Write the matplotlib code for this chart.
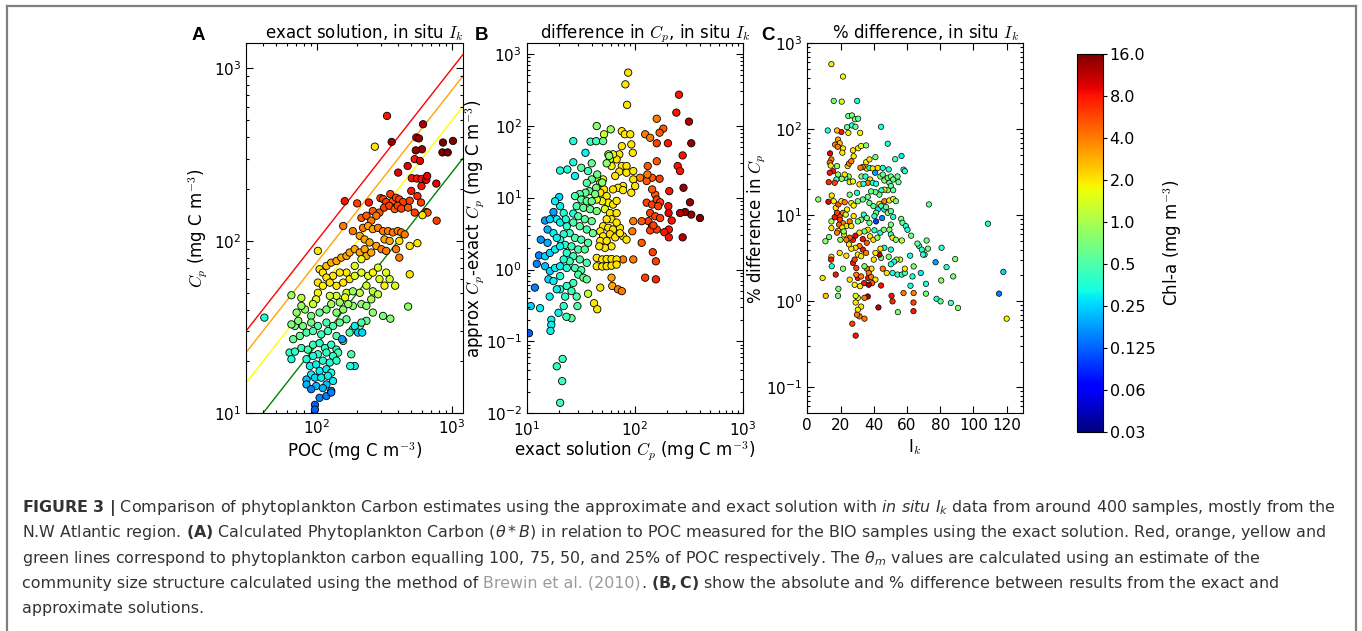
import numpy as np
import matplotlib
matplotlib.use('Agg')
import matplotlib.pyplot as plt
from matplotlib.colors import LogNorm
from matplotlib.lines import Line2D

plt.rcParams['font.family'] = 'DejaVu Sans'
plt.rcParams['mathtext.fontset'] = 'cm'

# ---- panel A: exact solution, Cp vs POC ----
a_poc = [331, 611, 269, 358, 545, 570, 600, 540, 858, 1017, 850, 930, 530, 580, 400, 470, 505, 550, 595, 645, 766, 595, 655,
         161, 199, 243, 214, 233, 260, 291, 296, 310, 326, 350, 366, 386, 408, 434, 315, 344, 377, 397, 422, 474, 487, 500, 555, 590, 645, 660, 605, 530, 770, 276, 253,
         157, 185, 220, 240, 260, 284, 309, 337, 366, 397, 422, 447, 317, 346, 208, 226, 246, 276, 301, 326, 408, 487, 555, 386, 408, 487, 474, 350, 380,
         102, 105, 111, 118, 128, 140, 152, 166, 175, 191, 208, 226, 233, 253, 214, 191, 166, 148, 132, 118, 102, 111, 125, 140, 157, 175, 191, 214, 240, 260,
         284, 291, 317, 326, 346, 166, 233, 208, 185, 162, 140, 125, 102, 99, 94, 77, 65, 82, 71,
         91, 105, 118, 140, 157, 185, 214, 260, 309, 233, 208, 185, 166, 148, 132, 118, 102, 91, 79, 69, 75, 84, 94, 108, 121, 140, 157, 175, 191, 202,
         217, 214, 67, 63, 69, 77, 86, 94, 105, 115, 128, 140, 154, 144, 132, 118, 102, 94, 84, 65, 89, 99, 111, 125, 140, 180, 191, 105, 118, 128,
         91, 84, 97, 108, 121, 132, 84, 99, 118, 91, 111, 128, 105, 118, 128, 97, 97, 41, 65, 73, 77, 177, 128, 148, 171, 260, 284, 253, 233]
a_cp = [531, 475, 352, 375, 398, 393, 340, 335, 372, 380, 326, 326, 298, 291, 249, 272, 231, 230, 228, 226, 215, 208, 238,
        170, 165, 167, 136, 140, 149, 146, 177, 175, 168, 187, 170, 178, 174, 168, 156, 160, 153, 160, 154, 156, 171, 195, 182, 167, 147, 146, 141, 146, 131, 140, 131,
        122, 114, 119, 122, 117, 119, 114, 114, 112, 114, 112, 109, 102, 100, 107, 102, 98, 93.5, 89.5, 87.5, 100, 93.5, 97, 89.5, 80, 64, 41.6, 35.4, 55,
        87.5, 68.5, 65.5, 71.6, 74.8, 76.5, 80, 81.8, 85.6, 89.5, 85.6, 89.5, 81.8, 85.6, 78.3, 71.6, 65.5, 65.5, 62.7, 61.3, 57.3, 54.9, 57.3, 54.9, 57.3, 60, 62.7, 65.5, 62.7, 65.5,
        70, 60, 55, 65.5, 60, 50, 55, 50, 51, 47, 48, 48, 50, 45.8, 43, 46.7, 48.4, 40, 38.4,
        36.7, 38.4, 40, 38.4, 40, 42, 43, 38.4, 36.7, 34.4, 32.1, 30.7, 35.1, 33.6, 32.1, 33.6, 32.1, 33.6, 32.1, 32.1, 28.1, 29.4, 30, 28.7, 30, 28.1, 26.3, 29.4, 32.1, 29.4,
        29.4, 33.6, 26.9, 22.5, 22.8, 23.9, 23.4, 25, 25.5, 23.9, 25, 23.4, 26.9, 22.5, 21.5, 22.5, 22, 21.5, 20.6, 20.6, 18.8, 19.2, 20.2, 19.7, 20.2, 22, 18.8, 17.6, 18, 17.2,
        16.8, 15.7, 16.1, 16.1, 16.5, 15.4, 14.7, 14.4, 14.7, 13.8, 14, 13.5, 12.3, 12.6, 13.2, 11.2, 10.5, 35.9, 32.8, 34.4, 42, 18.8, 43, 44, 43, 51, 49, 45.8, 42]
a_chl = [8, 12, 2, 14, 12, 14, 14, 14, 16, 16, 16, 16, 8, 9, 9, 9, 8, 8, 8, 9, 9, 8, 9,
         8, 6, 8, 5, 5, 5, 5, 6, 6, 6, 6, 5, 6, 6, 6, 6, 6, 5, 6, 6, 5, 6, 8, 7, 6, 5, 5, 2, 6, 6, 4, 4,
         4, 4, 4, 3, 3, 4, 4, 4, 4, 4, 4, 4, 3, 3, 3, 3, 3, 3, 4, 4, 2, 2, 2, 4, 4, 2, 0.8, 0.8, 1.5,
         2, 2, 2, 2.5, 3, 3, 3, 3, 3, 3, 3, 3, 3, 3, 1.5, 1.5, 2, 2, 2, 2, 2, 1.8, 2, 2, 2, 2, 1.5, 1.5, 1.5, 1.8,
         1.5, 1.5, 1.8, 1.5, 1.3, 1.3, 1.3, 1.2, 0.9, 1.7, 1.3, 1.3, 1.8, 1.5, 1.2, 1.2, 0.9, 0.8, 0.8,
         0.7, 0.6, 0.7, 0.8, 0.8, 0.8, 0.8, 0.8, 0.7, 0.6, 0.7, 0.6, 0.6, 0.6, 0.5, 0.5, 0.5, 0.7, 0.7, 0.7, 0.6, 0.5, 0.5, 0.45, 0.45, 0.5, 0.5, 0.5, 0.3, 0.25,
         0.25, 0.5, 0.6, 0.4, 0.4, 0.45, 0.45, 0.45, 0.4, 0.4, 0.4, 0.4, 0.18, 0.45, 0.4, 0.4, 0.4, 0.35, 0.35, 0.35, 0.3, 0.3, 0.35, 0.35, 0.4, 0.5, 0.3, 0.3, 0.3, 0.35,
         0.3, 0.22, 0.25, 0.3, 0.3, 0.3, 0.2, 0.22, 0.22, 0.15, 0.2, 0.2, 0.15, 0.15, 0.15, 0.12, 0.12, 0.35, 0.7, 0.75, 0.9, 0.35, 0.9, 0.9, 0.9, 1.1, 1.2, 1, 0.8]
poc_fractions = [1.0, 0.75, 0.5, 0.25]
fraction_colors = ['red', 'orange', 'yellow', 'green']

# ---- panel B: approx - exact Cp vs exact Cp ----
b_exact = [87, 82, 85, 257, 243, 318, 334, 160, 184, 170, 125, 139, 160, 203, 278, 250, 263, 283, 402, 334,
           293, 325, 263, 278, 205, 206, 220, 207, 188, 207, 209, 170, 145, 129, 112, 132, 131, 160, 155, 145,
           129, 145, 160, 172, 165, 139, 155, 172, 134, 145, 160, 139, 149, 116, 97, 95, 116, 147, 157, 125,
           157, 97, 78, 61, 62, 70, 76, 48, 42, 45, 37,
           76, 81, 91, 93, 76, 96, 72, 68, 63, 57, 59, 61, 76, 84, 72, 84, 97, 97, 66, 51,
           44.5, 78, 70, 63, 78, 93, 101, 52, 48, 55, 57, 50, 44.5, 63, 68, 53, 59, 68, 61, 55,
           51, 57, 63, 73, 68, 48, 51, 59, 66, 78, 84, 73, 48, 55, 61, 53, 47, 44.5, 50, 55,
           61, 68, 44.5, 50, 55, 61, 68,
           44.5, 60, 52, 39, 44, 51, 35, 58, 55, 37, 45, 40, 48, 44, 38, 43, 50, 35, 31, 28,
           32, 36, 40, 29, 33.5, 38.6, 44.5, 27, 30, 34.5, 40, 27, 23.5, 31, 36, 41, 25, 28, 32, 37,
           22, 20.4, 22.7, 26, 30, 34.5, 23.5, 27, 31, 36, 25, 28, 32, 30, 33.5, 36, 27, 23.5, 26, 29,
           29.5, 22.7, 20.4, 22, 26, 23.3, 19.7, 16.9, 16.9, 16.6, 13.3, 10.9, 11.9, 10.5, 19, 21.5, 21.3, 20.4,
           27, 27, 28, 20.4, 23.8, 20, 17.7, 14.8, 19, 15.6, 20.4, 13.5, 15.6, 13, 12.4, 14.8, 16.4, 18.3, 20.4, 14.8,
           16.4, 18.3, 20.4, 15.9, 17.7, 20.4, 19, 16.3, 20.4, 22, 23, 17.7, 19, 16.4, 22, 23.5, 32, 36, 40, 18.3]
b_diff = [547, 376, 195, 270, 152, 114, 57, 125, 91, 80, 76, 68, 57, 57, 38.6, 27.5, 23.4, 13.7, 5.2, 5.8,
          6.3, 8.6, 6.1, 2.8, 7.6, 6.1, 4.8, 3.6, 3.3, 2.8, 12.3, 18.3, 18.9, 17, 18.9, 27.5, 21, 32, 11, 13,
          8.5, 8.0, 9.4, 8.6, 7.6, 6.1, 5.5, 5.2, 4.7, 4.0, 3.6, 3.5, 4.1, 4.7, 4.7, 3.4, 2.35, 1.74, 1.3, 0.77,
          0.73, 1.38, 1.38, 0.77, 0.59, 0.53, 0.5, 0.56, 0.34, 0.28, 0.46,
          84, 76, 76, 55, 52, 42, 40, 34, 40, 40, 34, 27.5, 27.5, 27.5, 23, 22.2, 23.4, 17.9, 20, 17.9,
          18.9, 14.5, 13.7, 13, 12.7, 11.7, 14.5, 13, 11.7, 10.5, 8.5, 8.9, 9.4, 8.0, 9, 6.9, 6.1, 6.1, 5.0, 5.0,
          4.0, 3.8, 3.6, 3.8, 4.5, 3.4, 2.9, 3.1, 2.8, 2.9, 2.6, 3.2, 2.5, 2.5, 2.1, 2.0, 2.1, 1.45, 1.38, 1.4,
          1.4, 1.38, 1.11, 1.1, 1.11, 1.13, 1.17,
          99, 89, 76, 60, 61, 61, 42, 38, 30, 23.4, 21, 17.9, 16, 13.7, 12.3, 11.2, 16.2, 11.7, 11.2, 10.5,
          9.4, 8.9, 8.9, 7.6, 7.2, 6.9, 6.5, 6.0, 5.5, 5.0, 4.7, 4.5, 4.0, 4.0, 3.6, 3.2, 3.2, 2.75, 2.6, 2.35,
          3.1, 2.6, 2.2, 2.1, 1.9, 1.9, 1.7, 1.53, 1.38, 1.24, 1.3, 1.05, 0.98, 0.85, 0.77, 0.73, 0.65, 0.59, 0.5, 0.42,
          0.31, 0.42, 0.53, 0.31, 0.21, 0.22, 0.25, 0.2, 0.17, 0.14, 0.29, 0.31, 0.56, 0.13, 0.045, 0.057, 0.028, 0.014,
          61, 31, 20, 23.8, 24.6, 10.2, 6.3, 4.8, 5, 3.6, 4.5, 2.6, 2.35, 1.57, 1.2, 1.53, 1.7, 1.9, 2.1, 1.11,
          0.95, 1.05, 1.11, 0.73, 0.69, 0.81, 0.53, 0.42, 7.6, 6.1, 5, 3.2, 2.75, 5.0, 1.38, 1.05, 26, 16, 30, 8.9]
b_chl = [2, 2, 2, 8, 8, 12, 14, 4, 5, 5, 4, 4, 6, 8, 8, 8, 8, 14, 16, 14,
         14, 14, 12, 12, 8, 9, 8, 8, 8, 8, 8, 6, 5, 5, 4, 5, 4, 5, 5, 5,
         6, 6, 6, 6, 6, 6, 6, 6, 6, 6, 6, 6, 6, 5, 4, 4, 5, 6, 6, 6,
         7, 4, 4, 3, 3, 4, 4, 2, 2, 2, 1.2,
         2, 2, 2, 2, 2, 2, 2, 2, 1.5, 1.2, 1.3, 1.8, 2, 2, 2, 2, 2, 2, 2, 1.5,
         1.3, 2, 2, 2, 2, 2, 2, 2, 2, 2, 1.8, 1.8, 1.5, 2, 2, 1.5, 2, 2, 2, 2,
         2, 2, 2, 2, 2, 2, 2, 2.2, 2, 2.2, 2, 2, 2, 2, 2, 2, 2, 2, 2, 2,
         2, 2, 2, 2, 2, 2, 2,
         0.8, 0.9, 1.3, 0.45, 0.45, 0.6, 0.3, 0.8, 0.8, 0.45, 0.6, 0.6, 0.7, 0.7, 0.6, 0.7, 0.8, 0.6, 0.5, 0.5,
         0.55, 0.6, 0.6, 0.5, 0.6, 0.6, 0.7, 0.35, 0.5, 0.55, 0.6, 0.5, 0.4, 0.55, 0.5, 0.6, 0.45, 0.5, 0.5, 0.55,
         0.35, 0.35, 0.4, 0.45, 0.5, 0.55, 0.4, 0.45, 0.5, 0.5, 0.45, 0.45, 0.5, 0.5, 0.6, 0.6, 0.45, 0.4, 0.45, 0.5,
         0.5, 0.4, 0.35, 0.4, 0.55, 0.45, 0.3, 0.3, 0.3, 0.3, 0.3, 0.25, 0.15, 0.12, 0.4, 0.45, 0.45, 0.45,
         0.35, 0.35, 0.3, 0.35, 0.35, 0.25, 0.18, 0.18, 0.3, 0.2, 0.3, 0.17, 0.2, 0.15, 0.15, 0.25, 0.25, 0.3, 0.3, 0.22,
         0.25, 0.3, 0.3, 0.25, 0.3, 0.35, 0.3, 0.3, 0.3, 0.35, 0.35, 0.3, 0.3, 0.25, 0.35, 0.35, 0.55, 0.55, 0.6, 0.3]

# ---- panel C: % difference vs Ik ----
c_ik = [14.5, 21.5, 15.9, 20.7, 30, 24.7, 26.9, 28.7, 30.6, 23.9,
        26.9, 29, 24.7, 31.8, 12.3, 20.5, 17.9, 44.4, 48.4, 56.7,
        52.9, 57.9, 58.7, 73.2, 108.7, 118, 115.4, 120, 90.7, 86.4,
        77.8, 80.2, 89, 87.8, 83.8, 80.8, 80.6, 77.2, 71.4, 71.4,
        71.8, 72.6, 70.6, 67.3, 66.3, 68.9, 69.7, 62.5, 61.9, 64,
        63.3, 62.1, 64, 63.9, 63.9, 57.9, 54.5, 51.3, 50.7, 42.8,
        36.4, 34.4, 32.4, 30.4, 30.4, 31.4, 34.4, 29.9, 27.1, 29.1,
        29.1, 29.1, 25.5, 28.5, 30.4, 21.5, 18.7, 18.5, 11.1, 9.2,
        17.1, 14.5, 14.3, 14.7, 19.5, 23.5, 13.1, 10.9, 14.5, 14.5,
        6.6, 12.7, 14.7, 15.9, 17.1, 18.7, 20.5, 22.5, 23.9, 17.5,
        19.5, 17.9, 21.5, 23.1, 16.5, 19.7, 21.5, 23.5, 25.5, 19.1,
        21.1, 26.5, 27.9, 26.5, 27.9, 25.5, 29.9, 31.4, 32.6, 24.9,
        22.9, 22.5, 20.7, 25.5, 27.5, 24.3, 25.1, 26.5, 27.9, 27.5,
        30.6, 32.4, 35.4, 18.5, 19.5, 21.5, 16.7, 18.3, 21.1, 13.7,
        14.5, 13.5, 14.1, 17.9, 18.5, 17.5, 15.5, 16.5, 12.9, 13.5,
        35.4, 35.8, 37.4, 39.4, 40.8, 42.4, 41, 37.4, 33.4, 32,
        35, 37.8, 36.4, 33.8, 39.4, 41.4, 44, 45.4, 46.4, 48.4,
        49.4, 50.3, 51.7, 48.4, 46.4, 44.6, 43.4, 41, 38.4, 36.4,
        33.4, 30.4, 37.4, 39.8, 43.4, 46.4, 49.4, 51.7, 53.3, 44.4,
        46.4, 42.4, 41.4, 45, 48.4, 50.3, 47.4, 41.4, 40.4, 34,
        35.8, 32.4, 30.4, 37.4, 40.4, 36.4, 34.4, 37.8, 39.8, 42.2,
        44, 46, 49.4, 50.3, 51.3, 53.3, 50.3, 51.7, 56.5, 57.3,
        59.3, 60.3, 56.9, 55.9, 53.7, 52.3, 50.3, 51.3, 54.3, 56.9,
        58.7, 58.7, 50.3, 49, 47.8, 45.4, 44.4, 46.4, 44, 43.4,
        41, 40, 38.6, 35.8, 34.4, 37, 36.6, 38.4, 41, 44.4,
        39, 37, 34.2, 31.8, 32.4, 29.5, 29.5, 27.5, 28.5, 30.4,
        32.4, 33.4, 35.4, 31.4, 29, 26.5, 25.1, 27.5, 29, 25.5,
        23.5, 22.1, 21.9, 18.5, 33.4, 31.4, 35.8, 17.9, 19.9, 45.4,
        49, 50.3, 51.7, 54.3, 54.9, 68.3]
c_pct = [572, 411, 214, 210, 214, 143, 145, 131, 133, 106,
         111, 107, 91, 91, 97, 93, 97, 107, 68, 49,
         45, 34, 32.6, 13.4, 8, 2.2, 1.23, 0.63, 0.84, 0.96,
         1.07, 1.0, 3.1, 1.95, 2.5, 4.2, 1.75, 2.85, 1.6, 1.23,
         5.1, 4.1, 3.5, 4.4, 4.7, 4, 3.5, 5.8, 3.4, 2.55,
         1.95, 1.52, 1.25, 0.97, 0.77, 1.25, 0.75, 1.0, 1.16, 0.85,
         1.14, 1.1, 0.87, 1.1, 0.8, 0.67, 0.63, 0.7, 0.55, 0.4,
         0.97, 1.16, 1.79, 1.56, 1.87, 2.4, 1.4, 1.16, 1.16, 1.87,
         2.05, 3.3, 3.06, 2.56, 3.66, 3.4, 5.6, 5.0, 7.1, 8.5,
         15.3, 14.4, 17, 14.6, 12.2, 13.4, 14.6, 14.2, 11.7, 9.8,
         9.8, 10.7, 10.7, 10.2, 9.5, 8.9, 8.1, 7.5, 8.5, 7.8,
         7.2, 7.5, 9.8, 13.9, 13, 17.4, 18.3, 22.9, 28.3, 28.3,
         27.3, 29.8, 26.6, 24.3, 24.8, 37.4, 40, 42.6, 48.6, 57,
         60.3, 64, 65, 76, 69, 60, 66.5, 62.7, 53.5, 52.5,
         44.7, 41, 37.9, 37.4, 29.8, 26.1, 32.6, 23.9, 24.3, 31.3,
         41.5, 34.9, 35.6, 35.1, 31.3, 35.6, 47.5, 44.7, 36.5, 35.8,
         28.3, 26.1, 23.9, 23.3, 23.9, 23.3, 28.3, 29.8, 25.4, 27.3,
         23.9, 21.9, 19.6, 19.6, 19.9, 19.5, 17.4, 18.6, 19, 16.4,
         15.3, 14.6, 13.9, 12.8, 13.6, 14.6, 14.9, 15.5, 14.6, 12.8,
         11.7, 11.7, 8.5, 9.3, 10.7, 11.2, 12.5, 10.7, 9.8, 10.2,
         9.3, 8.9, 8.5, 8.2, 6.7, 6.8, 6.5, 5.7, 5.2, 5.5,
         6.3, 6.8, 6.8, 6, 5.5, 5.2, 7.8, 9.6, 9.1, 8.2,
         7.5, 6.8, 5.1, 3.06, 3.06, 2.9, 2.7, 2.14, 2.05, 2.05,
         2.14, 2.4, 4, 3.3, 2.14, 2.4, 3.2, 4.2, 4.1, 3.5,
         3.66, 3.06, 2.4, 2.4, 2.56, 2.14, 1.87, 1.92, 1.79, 1.53,
         1.63, 1.56, 1.63, 1.5, 1.95, 2.04, 2.44, 2.8, 3.06, 3.5,
         3.35, 4, 3.66, 4.4, 4.2, 4.1, 4.6, 5.2, 5.8, 5.5,
         5.2, 6, 6.5, 6.6, 5.3, 6.3, 4.8, 6.3, 5.2, 35.6,
         34.2, 28.3, 26.1, 28.3, 24.3, 2.14]
c_chl = [2, 1.8, 0.7, 1.3, 0.35, 0.6, 0.7, 0.7, 0.6, 0.6,
         0.35, 0.6, 1.8, 1.8, 0.35, 8, 2.5, 0.35, 0.35, 0.3,
         0.45, 0.35, 0.4, 0.6, 0.35, 0.25, 0.15, 1.8, 0.8, 0.5,
         0.35, 0.6, 0.8, 0.7, 0.4, 0.4, 0.8, 0.18, 0.35, 0.7,
         0.7, 0.7, 0.45, 0.4, 0.6, 0.4, 0.4, 0.7, 0.35, 0.7,
         0.35, 0.35, 4, 6, 8, 4, 0.7, 7, 8, 12,
         12, 4, 2, 1.5, 2, 4, 4, 4, 6, 8,
         2, 1.5, 2, 1.8, 8, 0.8, 0.7, 0.7, 2.5, 2,
         8, 2, 8, 0.35, 2, 2, 0.7, 0.8, 2, 1,
         0.8, 9, 2, 1.8, 2, 5, 2, 4, 1.8, 8,
         5, 6, 4, 1.3, 8, 6, 4, 2, 4, 5,
         2, 2, 2, 2, 1.8, 0.7, 0.35, 2, 0.7, 0.8,
         0.35, 2, 0.8, 2, 1.5, 2, 4, 4, 2, 2,
         2, 1.5, 0.8, 3, 2.5, 2, 4, 4, 2, 9,
         4, 4, 2, 0.8, 0.8, 0.4, 8, 6, 7, 8,
         2, 1.8, 0.35, 2, 0.18, 2, 0.7, 2, 4, 4,
         0.35, 2, 4, 0.35, 0.35, 0.35, 0.8, 0.6, 0.7, 0.7,
         0.6, 0.6, 0.6, 0.7, 2, 0.35, 0.7, 0.6, 0.6, 0.6,
         0.6, 0.7, 0.6, 0.6, 2, 4, 2, 2, 0.7, 0.45,
         0.3, 0.3, 0.1, 0.15, 0.7, 0.6, 0.6, 0.7, 0.4, 0.35,
         0.7, 0.7, 0.7, 0.7, 0.35, 2, 0.7, 2, 2, 0.8,
         0.4, 0.7, 0.8, 0.4, 2, 0.8, 0.7, 0.35, 0.7, 0.6,
         0.4, 0.35, 1.2, 1.2, 1.3, 0.35, 0.35, 0.35, 0.4, 0.4,
         0.5, 2, 0.35, 0.7, 2, 4, 0.7, 0.35, 2, 12,
         2, 2, 2, 4, 0.7, 4, 8, 4, 2, 8,
         5, 12, 8, 2, 4, 4, 6, 8, 6, 2,
         2, 8, 4, 4, 2, 2, 2, 8, 9, 5,
         4, 2, 0.8, 2, 8, 2, 5, 4, 0.8, 0.35,
         0.35, 0.7, 0.6, 0.6, 0.6, 0.3]

cbar_ticks = [0.03125, 0.0625, 0.125, 0.25, 0.5, 1, 2, 4, 8, 16]
cbar_labels = ['0.03', '0.06', '0.125', '0.25', '0.5', '1.0', '2.0', '4.0', '8.0', '16.0']

W, H = 1362, 631
fig = plt.figure(figsize=(W / 100, H / 100), dpi=100)
norm = LogNorm(vmin=cbar_ticks[0], vmax=cbar_ticks[-1])
TICK, LAB = 11, 12


def px_axes(left, right, top, bottom):
    return fig.add_axes([left / W, 1 - bottom / H, (right - left) / W, (bottom - top) / H])


def style(ax):
    ax.tick_params(which='both', direction='in', top=True, right=True, labelsize=TICK, width=0.8)
    ax.tick_params(which='major', length=5)
    ax.tick_params(which='minor', length=2.5)
    for s in ax.spines.values():
        s.set_linewidth(0.8)


axA = px_axes(246, 462.7, 43.3, 413.3)
axB = px_axes(526.7, 742.7, 43.3, 413.3)
axC = px_axes(807.3, 1023.3, 43.3, 413.3)

# A
axA.set_xscale('log')
axA.set_yscale('log')
axA.set_xlim(30, 1200)
axA.set_ylim(10, 1400)
xl = np.array(axA.get_xlim())
for f, col in zip(poc_fractions, fraction_colors):
    axA.plot(xl, f * xl, color=col, lw=1.0, zorder=1)
axA.scatter(a_poc, a_cp, c=a_chl, cmap='jet', norm=norm, s=28, edgecolors='k', linewidths=0.6, zorder=2)
axA.set_xlabel('POC (mg C m$^{-3}$)', fontsize=LAB)
axA.set_ylabel('$C_p$ (mg C m$^{-3}$)', fontsize=LAB)
axA.yaxis.set_label_coords(-0.166, 0.5)
axA.xaxis.set_label_coords(0.5, -0.072)
axA.text(0.547, 1.013, 'exact solution, in situ $I_k$', transform=axA.transAxes, ha='center', va='baseline', fontsize=LAB)

# B
axB.set_xscale('log')
axB.set_yscale('log')
axB.set_xlim(10, 1000)
axB.set_ylim(0.01, 1400)
axB.scatter(b_exact, b_diff, c=b_chl, cmap='jet', norm=norm, s=28, edgecolors='k', linewidths=0.6)
axB.set_xlabel('exact solution $C_p$ (mg C m$^{-3}$)', fontsize=LAB)
axB.set_ylabel('approx $C_p$-exact $C_p$ (mg C m$^{-3}$)', fontsize=LAB)
axB.yaxis.set_label_coords(-0.184, 0.5)
axB.xaxis.set_label_coords(0.5, -0.072)
axB.text(0.547, 1.013, 'difference in $C_p$, in situ $I_k$', transform=axB.transAxes, ha='center', va='baseline', fontsize=LAB)

# C
axC.set_yscale('log')
axC.set_xlim(0, 130)
axC.set_ylim(0.05, 1000)
axC.set_xticks([0, 20, 40, 60, 80, 100, 120])
axC.scatter(c_ik, c_pct, c=c_chl, cmap='jet', norm=norm, s=15, edgecolors='k', linewidths=0.5)
axC.set_xlabel('I$_k$', fontsize=LAB)
axC.set_ylabel('% difference in $C_p$', fontsize=LAB)
axC.yaxis.set_label_coords(-0.182, 0.5)
axC.xaxis.set_label_coords(0.5, -0.064)
axC.text(0.547, 1.013, '% difference, in situ $I_k$', transform=axC.transAxes, ha='center', va='baseline', fontsize=LAB)

for ax in (axA, axB, axC):
    style(ax)
axB.tick_params(axis='x', which='major', pad=5)

for letter, xp in zip(['A', 'B', 'C'], [198, 481, 768]):
    fig.text(xp / W, 1 - 39.5 / H, letter, family='Liberation Sans', fontweight='bold', fontsize=13.5,
             ha='center', va='baseline')

# colorbar
cax = px_axes(1076.7, 1102.7, 54, 431.7)
sm = plt.cm.ScalarMappable(norm=norm, cmap='jet')
cb = fig.colorbar(sm, cax=cax, ticks=cbar_ticks)
cb.ax.minorticks_off()
cb.ax.set_yticklabels(cbar_labels)
cb.ax.tick_params(labelsize=11.5, length=3, width=0.8, pad=2)
cb.outline.set_linewidth(0.8)
cb.set_label('Chl-a (mg m$^{-3}$)', fontsize=LAB)

# frame around the figure
frame = dict(color='#7f7f7f', lw=1.6, transform=fig.transFigure)
fig.add_artist(Line2D([7 / W, 7 / W], [0, 1 - 6 / H], **frame))
fig.add_artist(Line2D([7 / W, 1356 / W], [1 - 6 / H, 1 - 6 / H], **frame))
fig.add_artist(Line2D([1356 / W, 1356 / W], [0, 1 - 6 / H], **frame))

# caption
renderer = fig.canvas.get_renderer()
cap = dict(family='DejaVu Sans', fontsize=11.4, va='baseline', math_fontfamily='dejavusans')
x0 = 22 / W
dark, grey = '#333333', '#9a9a9a'


def caption_line(ypx, parts):
    x = x0
    for s, col in parts:
        t = fig.text(x, 1 - ypx / H, s, color=col, **cap)
        x = t.get_window_extent(renderer=renderer).x1 / W


caption_line(512, [(r'$\mathbf{FIGURE\ 3\ |}$ Comparison of phytoplankton Carbon estimates using the approximate '
                    r'and exact solution with $\mathit{in\ situ\ I_k}$ data from around 400 samples, mostly from the', dark)])
caption_line(537, [(r'N.W Atlantic region. $\mathbf{(A)}$ Calculated Phytoplankton Carbon ($\theta * B$) in relation to '
                    r'POC measured for the BIO samples using the exact solution. Red, orange, yellow and', dark)])
caption_line(563, [(r'green lines correspond to phytoplankton carbon equalling 100, 75, 50, and 25% of POC respectively. '
                    r'The $\theta_m$ values are calculated using an estimate of the', dark)])
caption_line(588, [('community size structure calculated using the method of', dark),
                   (' Brewin et al. (2010)', grey),
                   (r'. $\mathbf{(B,C)}$ show the absolute and % difference between results from the exact and', dark)])
caption_line(613, [('approximate solutions.', dark)])

fig.savefig('out.png', dpi=100)
